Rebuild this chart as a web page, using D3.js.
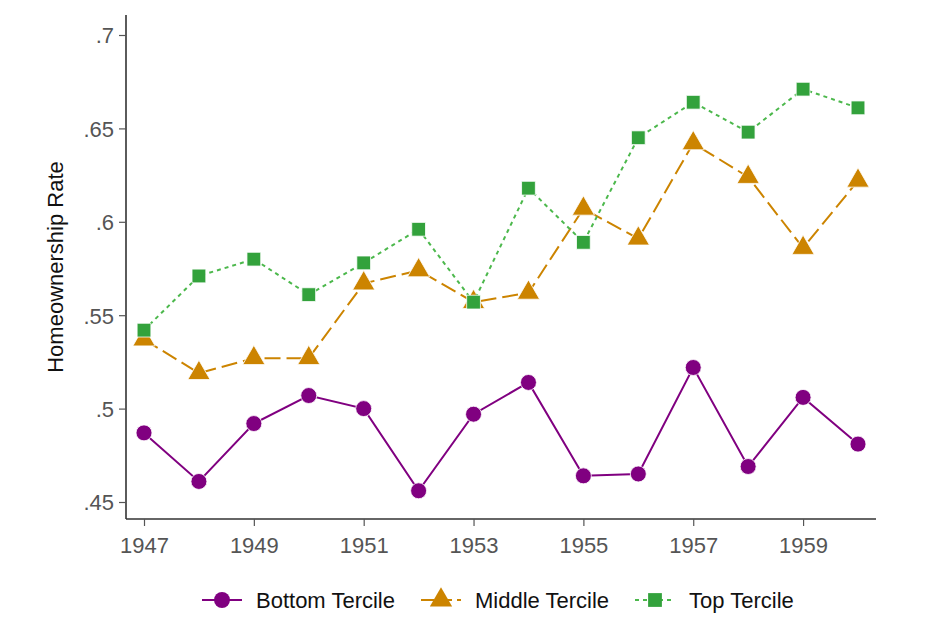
<!DOCTYPE html>
<html>
<head>
<meta charset="utf-8">
<script src="https://cdn.jsdelivr.net/npm/d3@7"></script>
<style>
  body { margin: 0; background: #fff; }
  text { font-family: "Liberation Sans", Arial, sans-serif; }
</style>
</head>
<body>
<div id="chart"></div>
<script>
// données
const years = [1947, 1948, 1949, 1950, 1951, 1952, 1953, 1954, 1955, 1956, 1957, 1958, 1959, 1960];
const bottom = [0.487, 0.461, 0.492, 0.507, 0.500, 0.456, 0.497, 0.514, 0.464, 0.465, 0.522, 0.469, 0.506, 0.481];
const middle = [0.537, 0.519, 0.527, 0.527, 0.567, 0.574, 0.557, 0.562, 0.607, 0.591, 0.642, 0.624, 0.586, 0.622];
const top3 = [0.542, 0.571, 0.580, 0.561, 0.578, 0.596, 0.557, 0.618, 0.589, 0.645, 0.664, 0.648, 0.671, 0.661];
const xTicks = [1947, 1949, 1951, 1953, 1955, 1957, 1959];
const yTicks = [0.45, 0.5, 0.55, 0.6, 0.65, 0.7];

const W = 925, H = 622;
const margin = { top: 15, right: 49, bottom: 103, left: 126 },
    width = W - margin.left - margin.right,
    height = H - margin.top - margin.bottom;

const svg = d3.select("#chart").append("svg")
    .attr("width", W).attr("height", H);
const g = svg.append("g").attr("transform", `translate(${margin.left},${margin.top})`);

const x = d3.scaleLinear().domain([1947, 1960]).range([18, 732]);
const y = d3.scaleLinear().domain([0.45, 0.7]).range([487, 20]);

const series = [
    { name: "Bottom Tercile", vals: bottom, color: "#800080", dash: null, legDash: null, shape: d3.symbolCircle, size: 200 },
    { name: "Middle Tercile", vals: middle, color: "#cc8400", dash: "16,6", legDash: "13,5", shape: d3.symbolTriangle, size: 215 },
    { name: "Top Tercile", vals: top3, color: "#33a23c", lineColor: "#4cb84c", dash: "4,4", legDash: "4,4", shape: d3.symbolSquare, size: 190 }
];

const line = d3.line().x((d) => x(d[0])).y((d) => y(d[1]));

series.forEach((s) => {
    const pts = years.map((yr, i) => [yr, s.vals[i]]);
    g.append("path")
        .attr("d", line(pts))
        .attr("fill", "none")
        .attr("stroke", s.lineColor || s.color)
        .attr("stroke-width", 2)
        .attr("stroke-dasharray", s.dash);
    g.selectAll(null).data(pts).enter().append("path")
        .attr("d", d3.symbol().type(s.shape).size(s.size))
        .attr("transform", (d) => `translate(${x(d[0])},${y(d[1])})`)
        .attr("fill", s.color)
        .attr("stroke", "#fff")
        .attr("stroke-width", 0.8);
});

// axes
const xAxis = g.append("g")
    .attr("transform", `translate(0,${height})`)
    .call(d3.axisBottom(x).tickValues(xTicks).tickFormat(d3.format("d")).tickSize(7).tickPadding(11).tickSizeOuter(0));
const yAxis = g.append("g")
    .call(d3.axisLeft(y).tickValues(yTicks).tickFormat((d) => d3.format(".2~f")(d).replace(/^0/, "")).tickSize(7).tickPadding(5).tickSizeOuter(0));
xAxis.select(".domain").attr("d", `M0,0H${width}`);
yAxis.select(".domain").attr("d", `M0,0V${height}`);
[xAxis, yAxis].forEach((a) => {
    a.select(".domain").attr("stroke", "#333").attr("stroke-width", 1.6);
    a.selectAll(".tick line").attr("stroke", "#555").attr("stroke-width", 1.2);
    a.selectAll(".tick text").attr("fill", "#555").style("font-size", "22px");
});
yAxis.selectAll(".tick text").attr("dy", "0.36em");

svg.append("text")
    .attr("transform", `translate(63,${margin.top + height / 2}) rotate(-90)`)
    .attr("text-anchor", "middle")
    .style("font-size", "22px")
    .attr("fill", "#111")
    .text("Homeownership Rate");

// légende
const legX = [202, 421, 635];
const leg = svg.append("g").attr("transform", "translate(0,600)");
series.forEach((s, i) => {
    const lg = leg.append("g").attr("transform", `translate(${legX[i]},0)`);
    lg.append("line").attr("x1", 0).attr("x2", 40).attr("y1", 0).attr("y2", 0)
        .attr("stroke", s.lineColor || s.color).attr("stroke-width", 2)
        .attr("stroke-dasharray", s.legDash);
    lg.append("path").attr("d", d3.symbol().type(s.shape).size(s.size))
        .attr("transform", "translate(20,0)").attr("fill", s.color);
    lg.append("text").attr("x", 54).attr("y", 8)
        .style("font-size", "22px").attr("fill", "#111").text(s.name);
});
</script>
</body>
</html>
